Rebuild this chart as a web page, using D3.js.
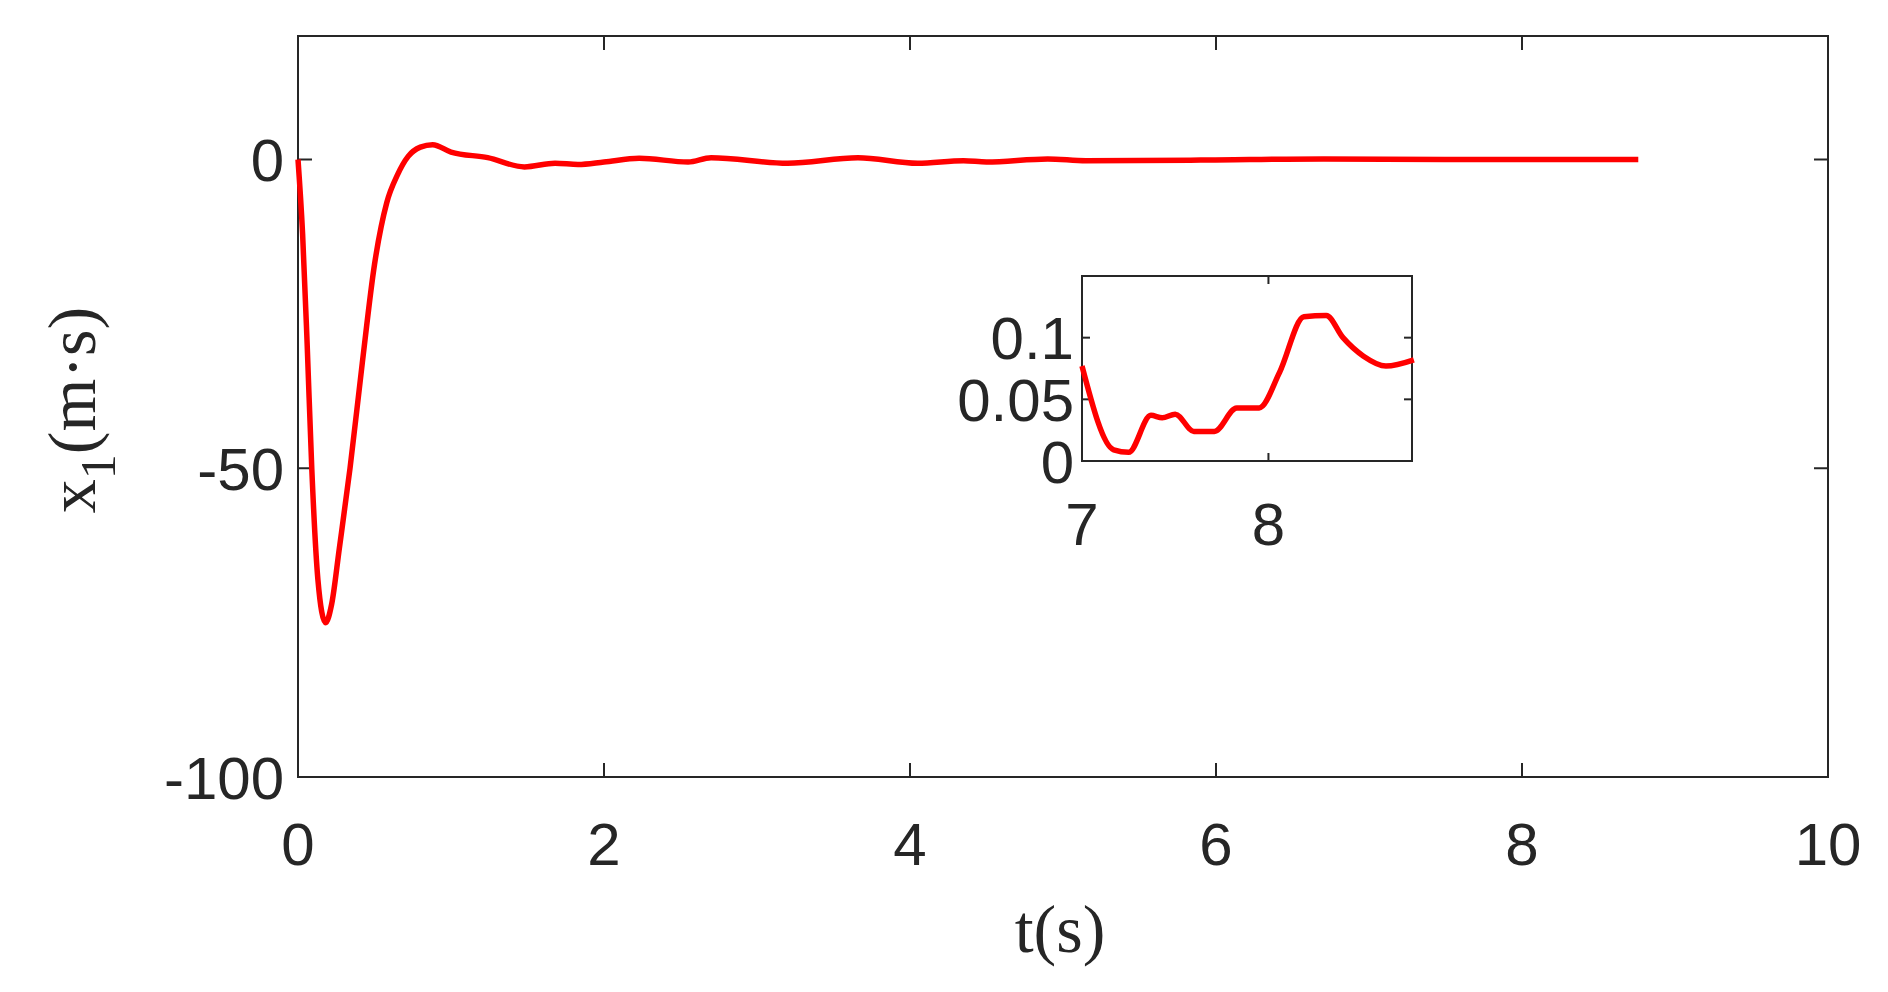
<!DOCTYPE html>
<html><head><meta charset="utf-8">
<script src="https://cdn.jsdelivr.net/npm/d3@7"></script>
<style>body{margin:0;background:#fff}</style>
</head><body>
<script>
// main curve x1 over t
var tMain = [0,0.03,0.06,0.09,0.13,0.18,0.22,0.27,0.34,0.42,0.5,0.58,0.65,0.72,0.8,0.88,1.0,1.24,1.48,1.68,1.83,2.0,2.23,2.55,2.7,3.2,3.66,4.05,4.35,4.5,4.9,5.15,5.9,6.7,7.5,8.76];
var xMain = [0,-12,-30,-50,-68,-75,-72,-63,-50,-33,-17,-7,-2.5,0.5,2,2.4,1.2,0.3,-1.2,-0.6,-0.8,-0.4,0.2,-0.4,0.3,-0.6,0.3,-0.6,-0.2,-0.4,0.1,-0.2,-0.1,0.1,0,0];
// zoomed inset
var tZoom = [7.0,7.17,7.25,7.37,7.43,7.5,7.6,7.71,7.83,7.95,8.06,8.19,8.31,8.4,8.51,8.63,8.78];
var xZoom = [0.077,0.009,0.007,0.037,0.035,0.038,0.024,0.024,0.043,0.043,0.072,0.117,0.118,0.1,0.085,0.077,0.082];
var mainXTicks = [0,2,4,6,8,10], mainYTicks = [-100,-50,0];
var zoomXTicks = [7,8], zoomYTicks = [0,0.05,0.1];

var W = 1888, H = 992, axisCol = '#262626', tickFont = 'Liberation Sans, Arial, sans-serif';
var svg = d3.select('body').append('svg').attr('width', W).attr('height', H);

function drawAxes(x, y, xt, yt, tlen, fs, xoff, yoff){
  var g = svg.append('g');
  var x0 = x.range()[0], x1 = x.range()[1], y0 = y.range()[0], y1 = y.range()[1];
  g.append('rect').attr('x', x0).attr('y', y1).attr('width', x1 - x0).attr('height', y0 - y1)
    .attr('fill', 'none').attr('stroke', axisCol).attr('stroke-width', 2);
  xt.forEach(function(v){
    g.append('line').attr('x1', x(v)).attr('x2', x(v)).attr('y1', y0).attr('y2', y0 - tlen).attr('stroke', axisCol).attr('stroke-width', 2);
    g.append('line').attr('x1', x(v)).attr('x2', x(v)).attr('y1', y1).attr('y2', y1 + tlen).attr('stroke', axisCol).attr('stroke-width', 2);
    g.append('text').attr('x', x(v)).attr('y', y0 + xoff).attr('text-anchor', 'middle')
      .style('font-family', tickFont).style('font-size', fs + 'px').attr('fill', axisCol).text(v);
  });
  yt.forEach(function(v){
    g.append('line').attr('x1', x0).attr('x2', x0 + tlen).attr('y1', y(v)).attr('y2', y(v)).attr('stroke', axisCol).attr('stroke-width', 2);
    g.append('line').attr('x1', x1).attr('x2', x1 - tlen).attr('y1', y(v)).attr('y2', y(v)).attr('stroke', axisCol).attr('stroke-width', 2);
    g.append('text').attr('x', x0 - yoff).attr('y', y(v) + fs * 0.36).attr('text-anchor', 'end')
      .style('font-family', tickFont).style('font-size', fs + 'px').attr('fill', axisCol).text(v);
  });
}

var line = function(x, y){ return d3.line().curve(d3.curveMonotoneX).x(function(d){ return x(d[0]); }).y(function(d){ return y(d[1]); }); };

// main plot
var x = d3.scaleLinear().domain([0, 10]).range([298, 1828]);
var y = d3.scaleLinear().domain([-100, 20]).range([777, 36]);
drawAxes(x, y, mainXTicks, mainYTicks, 14, 60, 88, 14);
svg.append('path').datum(d3.zip(tMain, xMain)).attr('d', line(x, y))
  .attr('fill', 'none').attr('stroke', '#ff0000').attr('stroke-width', 5.5);

// inset
var xi = d3.scaleLinear().domain([7, 8.77]).range([1082, 1412]);
var yi = d3.scaleLinear().domain([0, 0.15]).range([461, 276]);
svg.append('rect').attr('x', 1082).attr('y', 276).attr('width', 330).attr('height', 185).attr('fill', '#fff');
drawAxes(xi, yi, zoomXTicks, zoomYTicks, 8, 60, 84, 8);
svg.append('path').datum(d3.zip(tZoom, xZoom)).attr('d', line(xi, yi))
  .attr('fill', 'none').attr('stroke', '#ff0000').attr('stroke-width', 5.5);

// axis titles
svg.append('text').attr('x', 1060).attr('y', 952).attr('text-anchor', 'middle')
  .style('font-family', 'Liberation Serif, Times New Roman, serif').style('font-size', '68px').attr('fill', axisCol).text('t(s)');
var yl = svg.append('text').attr('transform', 'translate(95,410) rotate(-90)').attr('text-anchor', 'middle')
  .style('font-family', 'Liberation Serif, Times New Roman, serif').style('font-size', '68px').attr('fill', axisCol);
yl.append('tspan').text('x');
yl.append('tspan').attr('dy', 20).style('font-size', '50px').text('1');
yl.append('tspan').attr('dy', -20).text('(m·s)');
</script>
</body></html>
